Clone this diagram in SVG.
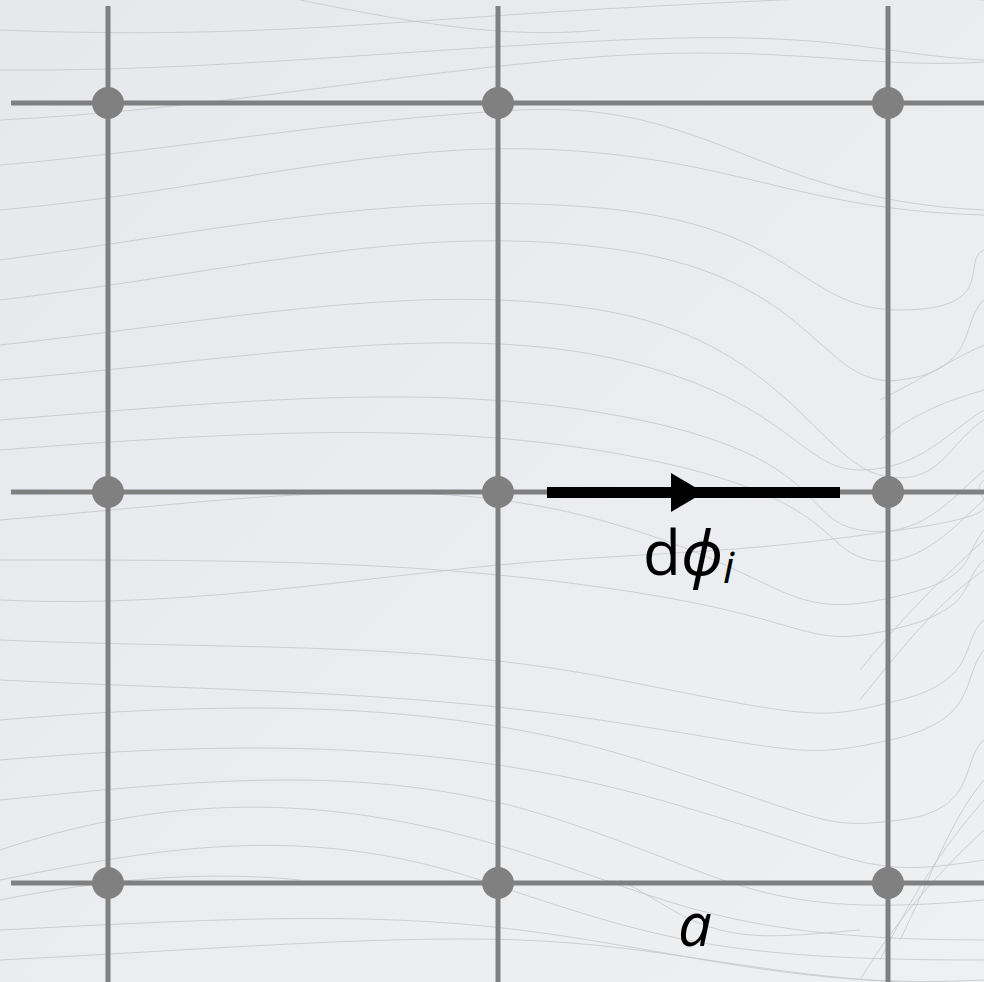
<svg xmlns="http://www.w3.org/2000/svg" width="984" height="982" viewBox="0 0 984 982">
<defs>
<linearGradient id="bg" x1="0" y1="0" x2="1" y2="1">
<stop offset="0" stop-color="#e6e8eb"/>
<stop offset="1" stop-color="#eef0f2"/>
</linearGradient>
</defs>
<style>
.w{fill:none;stroke:#c4c6c9;stroke-width:0.8}
.g{stroke:#808080;stroke-width:5;fill:none}
.d{fill:#808080}
.t{font-family:"Open Sans","Noto Sans","DejaVu Sans",sans-serif;fill:#000}
</style>
<rect width="984" height="982" fill="url(#bg)"/>
<g id="background">
<path class="w" d="M0,30 C250,40 400,20 620,8 S900,-5 984,0"/>
<path class="w" d="M0,70 C200,72 400,50 620,40 S880,55 984,60"/>
<path class="w" d="M0,120 C200,110 350,80 560,60 S860,70 984,62"/>
<path class="w" d="M0,165 C180,150 330,120 520,110 S760,200 984,210"/>
<path class="w" d="M0,210 C220,190 380,140 560,150 S800,210 984,215"/>
<path class="w" d="M0,260 C220,230 400,190 600,208 S800,310 900,310 S960,260 984,250"/>
<path class="w" d="M0,300 C250,270 420,220 620,250 S820,390 900,380 S960,320 984,300"/>
<path class="w" d="M0,345 C230,320 420,280 600,310 S820,460 880,475 S950,440 984,420"/>
<path class="w" d="M0,380 C240,360 450,320 620,360 S800,470 860,470 S950,430 984,410"/>
<path class="w" d="M0,420 C250,400 450,380 640,420 S800,520 860,530 S950,500 984,470"/>
<path class="w" d="M0,450 C260,430 460,420 650,460 S820,550 870,560 S960,520 984,500"/>
<path class="w" d="M0,520 C240,500 420,470 600,520 S780,620 880,600 S960,560 984,530"/>
<path class="w" d="M0,560 C240,560 420,560 620,590 S800,650 890,630 S960,580 984,560"/>
<path class="w" d="M0,600 C200,610 400,570 560,560 S760,550 900,530 S960,500 984,480"/>
<path class="w" d="M0,640 C240,650 420,640 620,680 S820,720 900,700 S960,640 984,620"/>
<path class="w" d="M0,680 C200,690 400,690 600,720 S800,760 890,740 S960,680 984,650"/>
<path class="w" d="M0,720 C240,700 450,700 640,760 S820,830 900,820 S960,760 984,740"/>
<path class="w" d="M0,760 C240,740 450,740 660,800 S860,880 984,860"/>
<path class="w" d="M0,800 C200,780 380,760 560,820 S760,920 984,900"/>
<path class="w" d="M0,850 C150,800 300,790 480,840 S700,940 984,940"/>
<path class="w" d="M0,880 C150,850 300,820 480,880 S720,960 984,960"/>
<path class="w" d="M0,930 C200,920 360,910 520,930 S800,990 984,980"/>
<path class="w" d="M0,960 C200,950 380,935 520,940 S760,975 900,982"/>
<path class="w" d="M620,880 C660,900 680,920 720,930 S800,935 860,930"/>
<path class="w" d="M860,980 C890,930 930,880 984,830"/>
<path class="w" d="M880,960 C910,900 940,850 984,800"/>
<path class="w" d="M900,940 C930,880 950,820 984,780"/>
<path class="w" d="M860,700 C900,650 940,600 984,570"/>
<path class="w" d="M860,670 C900,620 940,580 984,540"/>
<path class="w" d="M880,440 C920,410 950,400 984,390"/>
<path class="w" d="M880,400 C920,380 950,360 984,345"/>
<path class="w" d="M300,0 C400,20 500,40 600,30"/>
<path class="w" d="M0,900 C100,880 200,870 300,880"/>
</g>
<g id="grid">
<line class="g" x1="108" y1="6" x2="108" y2="982"/>
<line class="g" x1="498" y1="6" x2="498" y2="982"/>
<line class="g" x1="888" y1="6" x2="888" y2="982"/>
<line class="g" x1="11" y1="103" x2="984" y2="103"/>
<line class="g" x1="11" y1="492" x2="984" y2="492"/>
<line class="g" x1="11" y1="883" x2="984" y2="883"/>
</g>
<g id="node-0-0"><circle class="d" cx="108" cy="103" r="16"/></g>
<g id="node-1-0"><circle class="d" cx="498" cy="103" r="16"/></g>
<g id="node-2-0"><circle class="d" cx="888" cy="103" r="16"/></g>
<g id="node-0-1"><circle class="d" cx="108" cy="492" r="16"/></g>
<g id="node-1-1"><circle class="d" cx="498" cy="492" r="16"/></g>
<g id="node-2-1"><circle class="d" cx="888" cy="492" r="16"/></g>
<g id="node-0-2"><circle class="d" cx="108" cy="883" r="16"/></g>
<g id="node-1-2"><circle class="d" cx="498" cy="883" r="16"/></g>
<g id="node-2-2"><circle class="d" cx="888" cy="883" r="16"/></g>
<g id="connectors">
<line x1="547" y1="492.5" x2="840" y2="492.5" stroke="#000" stroke-width="11"/>
<polygon points="671,473 704,492.5 671,512" fill="#000"/>
</g>
<g id="labels">
<text class="t" x="643" y="575" font-size="62">d<tspan font-style="italic">ϕ</tspan><tspan font-style="italic" font-size="44" dy="8">i</tspan></text>
<text class="t" x="678" y="946" font-size="60" font-style="italic">a</text>
</g>
</svg>
